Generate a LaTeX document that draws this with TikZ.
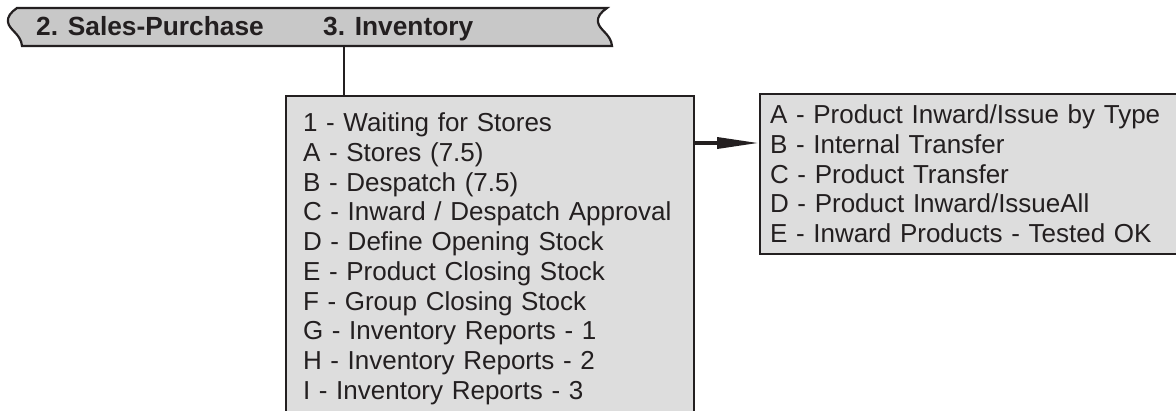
\documentclass[tikz,border=0pt]{standalone}
\usepackage{fontspec}
\setmainfont{Liberation Sans}
\usetikzlibrary{arrows.meta}
\definecolor{ink}{HTML}{231F20}
\definecolor{tabgray}{HTML}{C8C8C8}
\definecolor{boxgray}{HTML}{DDDDDD}
\begin{document}
\begin{tikzpicture}[x=1pt, y=-1pt,
        every node/.style={text=ink, font=\fontsize{26}{29.7}\selectfont},
        tabtext/.style={anchor=base west, inner sep=0pt, font=\fontsize{26.3}{30}\selectfont\bfseries},
        listbox/.style={anchor=north west, draw=ink, fill=boxgray, line width=2pt, align=left}]
        \useasboundingbox (0,0) rectangle (1176,410);
        \clip (0,0) rectangle (1176,410);
        % tab strip
        \draw[ink, fill=tabgray, line width=2.2pt] (17,8) -- (607,8)
            .. controls (601,12) and (597,17) .. (598,22)
            .. controls (599,30) and (611,34) .. (612,46) -- (22,46)
            .. controls (21,34) and (9,30) .. (8,22)
            .. controls (7,17) and (11,12) .. (17,8) -- cycle;
        \node[tabtext] (1) at (36,35) {2. Sales-Purchase};
        \node[tabtext] (2) at (323,35) {3. Inventory};
        \coordinate (tab) at (344,46);
        % menus
        \node[listbox, text width=374pt, inner xsep=17pt, inner ysep=17pt] (inv) at (285,95) {1 - Waiting for Stores\\
            A - Stores (7.5)\\
            B - Despatch (7.5)\\
            C - Inward / Despatch Approval\\
            D - Define Opening Stock\\
            E - Product Closing Stock\\
            F - Group Closing Stock\\
            G - Inventory Reports - 1\\
            H - Inventory Reports - 2\\
            I - Inventory Reports - 3};
        \node[listbox, text width=399pt, inner xsep=10pt, inner ysep=11pt] (sub) at (759,93) {A - Product Inward/Issue by Type\\
            B - Internal Transfer\\
            C - Product Transfer\\
            D - Product Inward/IssueAll\\
            E - Inward Products - Tested OK};
        \draw[ink, line width=2pt] (tab) -- (tab |- inv.north);
        \draw[ink, line width=3.5pt, -{Triangle[length=42pt, width=11pt]}] (inv.east |- 0,143) -- (sub.west |- 0,143);
    \end{tikzpicture}
\end{document}
